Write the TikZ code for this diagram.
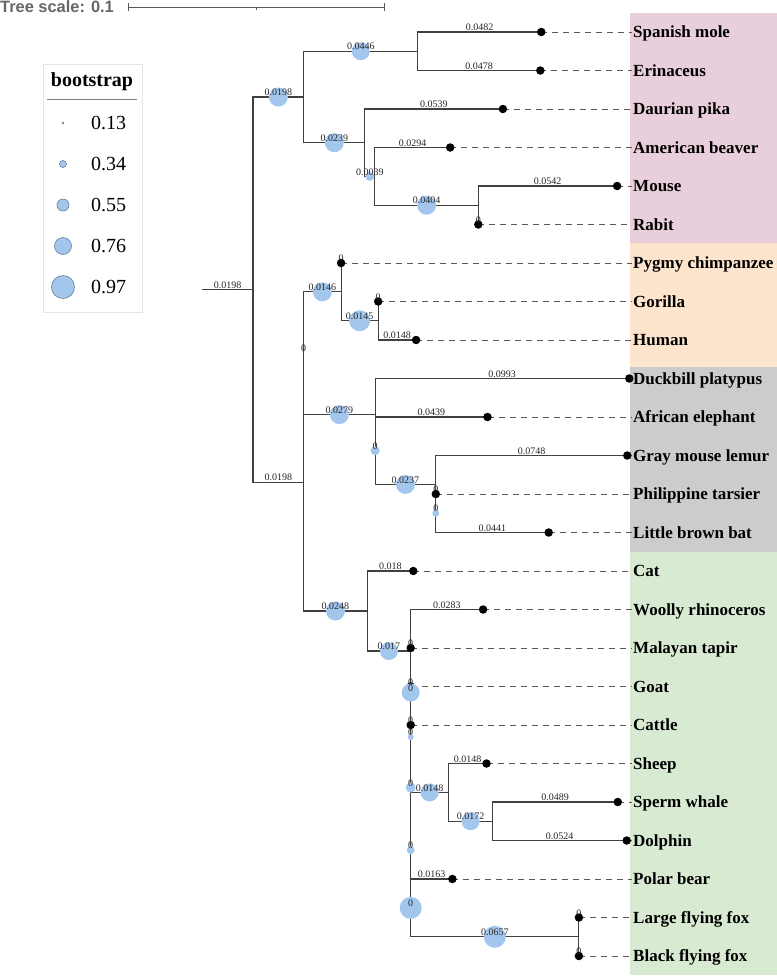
\documentclass[tikz,border=0pt]{standalone}
\usepackage{fontspec}
\setmainfont{Liberation Serif}
\newfontfamily\scalefont{Liberation Sans}

\definecolor{pinkbg}{RGB}{233,207,219}
\definecolor{peachbg}{RGB}{253,229,205}
\definecolor{graybg}{RGB}{204,204,204}
\definecolor{greenbg}{RGB}{217,234,211}
\definecolor{bootblue}{RGB}{163,198,236}
\definecolor{bootedge}{RGB}{100,128,160}

\begin{document}
\begin{tikzpicture}[
    x=1pt, y=-1pt,
    branch/.style={draw=black!75, line width=1.1pt, line cap=rect},
    guide/.style={draw=black!65, line width=0.9pt, dash pattern=on 6pt off 5pt},
    tip/.style={circle, fill=black, inner sep=0, minimum size=8.5pt},
    boot/.style={circle, fill=bootblue, inner sep=0, minimum size=#1},
    len/.style={above, inner sep=1pt, font=\fontsize{10}{10}\selectfont, text=black!85},
    taxon/.style={anchor=west, inner sep=1pt, text height=11.5pt, text depth=0pt,
                  font=\bfseries\fontsize{17}{17}\selectfont},
  ]
    \useasboundingbox (0,0) rectangle (777,978);

    % Clade backgrounds
    \fill[pinkbg]  (630,13)  rectangle (777,243);
    \fill[peachbg] (630,243) rectangle (777,367);
    \fill[graybg]  (630,367) rectangle (777,552);
    \fill[greenbg] (630,552) rectangle (777,975);

    % Tree scale
    \node[anchor=base west, inner sep=0, text=black!60,
          font=\scalefont\bfseries\fontsize{16.4}{16}\selectfont] (scale) at (0,12) {Tree scale: 0.1};
    \coordinate (bar0) at (128,7);
    \coordinate (bar1) at (384,7);
    \draw[black!65, line width=1pt] (bar0) -- (bar1);
    \draw[black!65, line width=1pt] (128,3) -- (128,11) (384,3) -- (384,11) (256,7) -- (256,10);

    % Legend
    \node[draw=black!10, fill=white, minimum width=99pt, minimum height=248pt, inner sep=0]
      (legend) at (92.5,188) {};
    \node[font=\bfseries\fontsize{20}{20}\selectfont] (legtitle) at (92,81.5) {bootstrap};
    \draw[black!50, line width=0.8pt] (47,99) -- (137,99);
    \foreach \v/\d [count=\k] in {0.13/2, 0.34/7, 0.55/12, 0.76/17, 0.97/23} {
      \node[boot=\d pt, draw=bootedge, line width=0.6pt] (key\k) at (63,{82+41*\k}) {};
      \node[anchor=west, inner sep=0, font=\fontsize{20}{20}\selectfont] (val\k) at (91,{82+41*\k}) {\v};
    }

    % Internal nodes
    \coordinate (base)    at (202.3,289.5);
    \coordinate (root)    at (253,289.5);
    \coordinate (top)     at (303.7,97);
    \coordinate (insect)  at (417.9,51.25);
    \coordinate (glires)  at (364.9,142.7);
    \coordinate (gl2)     at (374.9,176.4);
    \coordinate (murid)   at (478.3,205.25);
    \coordinate (low)     at (303.7,482.1);
    \coordinate (mid)     at (303.7,353.2);
    \coordinate (ape)     at (341.1,291.9);
    \coordinate (homo)    at (378.2,320.75);
    \coordinate (basal)   at (375.1,414.6);
    \coordinate (bas2)    at (375.1,450.7);
    \coordinate (prim)    at (435.8,484.4);
    \coordinate (prim2)   at (435.8,513.25);
    \coordinate (laur)    at (367.2,611);
    \coordinate (ungu)    at (410.7,651);
    \coordinate (z5)      at (410.7,692.5);
    \coordinate (z4)      at (410.7,737);
    \coordinate (z3)      at (410.7,787.6);
    \coordinate (z2)      at (410.7,850.1);
    \coordinate (ovis)    at (448.6,792.4);
    \coordinate (ceta)    at (492.6,821.25);
    \coordinate (z1)      at (410.7,907.9);
    \coordinate (bats)    at (578.9,936.75);

    % Leaves: name/x/row/label
    \def\leaves{mole/541.3/0/Spanish mole, erin/540.3/1/Erinaceus, pika/502.9/2/Daurian pika,
      beaver/450.2/3/American beaver, mouse/617.1/4/Mouse, rabit/478.3/5/Rabit,
      pygmy/341.1/6/Pygmy chimpanzee, gorilla/378.2/7/Gorilla, human/416.1/8/Human,
      duck/629.3/9/Duckbill platypus, african/487.5/10/African elephant,
      lemur/627.3/11/Gray mouse lemur, tarsier/435.8/12/Philippine tarsier,
      bat/548.7/13/Little brown bat, cat/413.3/14/Cat, woolly/483.1/15/Woolly rhinoceros,
      tapir/410.7/16/Malayan tapir, goat/410.7/17/Goat, cattle/410.7/18/Cattle,
      sheep/486.5/19/Sheep, sperm/617.8/20/Sperm whale, dolphin/626.7/21/Dolphin,
      polar/452.4/22/Polar bear, lff/578.9/23/Large flying fox, bff/578.9/24/Black flying fox}
    \foreach \n/\x/\i/\t in \leaves {
      \coordinate (\n) at (\x,{32+38.5*\i});
      \node[taxon] (\n-txt) at (632,{32+38.5*\i}) {\t};
    }

    % Branches: parent/child/length/bubble
    \def\branches{base/root/0.0198/0, root/top/0.0198/19, top/insect/0.0446/18,
      insect/mole/0.0482/0, insect/erin/0.0478/0, top/glires/0.0239/19,
      glires/pika/0.0539/0, glires/gl2/0.0039/9, gl2/beaver/0.0294/0,
      gl2/murid/0.0404/19, murid/mouse/0.0542/0, murid/rabit/0/0,
      root/low/0.0198/0, low/mid/0/0, mid/ape/0.0146/19, ape/pygmy/0/0,
      ape/homo/0.0145/21, homo/gorilla/0/0, homo/human/0.0148/0,
      mid/basal/0.0279/19, basal/duck/0.0993/0, basal/bas2/0/9,
      bas2/african/0.0439/0, bas2/prim/0.0237/19, prim/lemur/0.0748/0,
      prim/prim2/0/7, prim2/tarsier/0/0, prim2/bat/0.0441/0,
      low/laur/0.0248/19, laur/cat/0.018/0, laur/ungu/0.017/18,
      ungu/woolly/0.0283/0, ungu/z5/0/18, z5/tapir/0/0, z5/z4/0/6,
      z4/goat/0/0, z4/z3/0/10, z3/cattle/0/0, z3/z2/0/8,
      z2/ovis/0.0148/18, ovis/sheep/0.0148/0, ovis/ceta/0.0172/18,
      ceta/sperm/0.0489/0, ceta/dolphin/0.0524/0, z2/z1/0/22,
      z1/polar/0.0163/0, z1/bats/0.0657/22, bats/lff/0/0, bats/bff/0/0}
    \foreach \p/\c/\l/\d in \branches
      \draw[branch] (\p) |- (\c);

    % Guides and tips
    \foreach \n/\x/\i/\t in \leaves {
      \draw[guide] (\n) -- (\n-txt.west);
      \node[tip] (\n-tip) at (\n) {};
    }

    % Bootstrap bubbles
    \foreach \p/\c/\l/\d in \branches
      \path (\p) |- node[pos=.75, boot=\d pt] (b-\c) {} (\c);

    % Branch lengths
    \foreach \p/\c/\l/\d in \branches
      \path (\p) |- node[pos=.75, len] (l-\c) {\l} (\c);
  \end{tikzpicture}
\end{document}
